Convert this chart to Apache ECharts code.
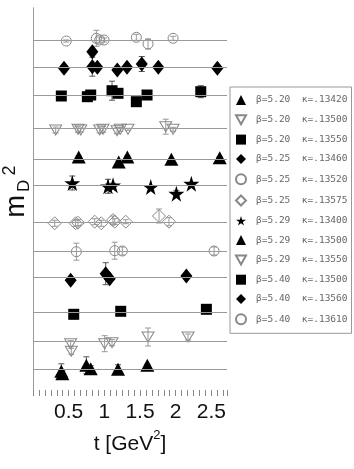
<!DOCTYPE html>
<html><head><meta charset="utf-8">
<script src="https://cdn.jsdelivr.net/npm/echarts@6/dist/echarts.min.js"></script>
<style>html,body{margin:0;padding:0;background:#fff}#c{width:354px;height:469px}</style>
</head><body><div id="c"></div>
<script>
const xTickLabels = ['0.5', '1', '1.5', '2', '2.5'];
const seriesNames = [
  'β=5.20  κ=.13420', 'β=5.20  κ=.13500', 'β=5.20  κ=.13550',
  'β=5.25  κ=.13460', 'β=5.25  κ=.13520', 'β=5.25  κ=.13575',
  'β=5.29  κ=.13400', 'β=5.29  κ=.13500', 'β=5.29  κ=.13550',
  'β=5.40  κ=.13500', 'β=5.40  κ=.13560', 'β=5.40  κ=.13610'
];
// horizontal reference level of each series (same order as seriesNames)
const levels = [2.37, 5.15, 8.07, 11.58, 14.17, 17.1, 20.78, 23.37, 26.45, 29.8, 32.53, 35.3];

// points: [t, mD2 (offset scale), error]
const b520_k13420 = [[0.397,2.17,0.75],[0.411,1.93,0.3],[0.748,2.77,0.85],[0.809,2.43,0.3],[1.192,2.37,0.45],[1.603,2.77,0.1]];
const b520_k13500 = [[0.528,4.93,0.3],[0.537,4.17,0.3],[1.005,4.93,0.8],[1.108,5.03,0.3],[1.613,5.6,0.9],[2.174,5.6,0.3]];
const b520_k13550 = [[0.571,7.87,0.45],[1.230,8.17,0.25],[2.431,8.37,0.1]];
const b525_k13460 = [[0.528,11.27,0.2],[1.019,11.93,1.1],[1.075,11.43,0.2],[2.150,11.7,0.1]];
const b525_k13520 = [[0.608,14.13,0.85],[1.146,14.23,0.85],[1.253,14.2,0.4],[2.539,14.2,0.4]];
const b525_k13575 = [[0.304,16.97,0.3],[0.598,16.97,0.3],[0.631,17.03,0.3],[0.865,17.13,0.3],[0.958,16.97,0.3],[1.122,17.3,0.4],[1.146,17.13,0.3],[1.300,17.13,0.2],[1.767,17.7,0.7],[1.907,17.13,0.4]];
const b529_k13400 = [[0.551,21.0,0.7],[1.052,20.67,0.7],[1.122,20.77,0.2],[1.651,20.6,0.1],[2.010,19.93,0.3],[2.220,20.93,0.1]];
const b529_k13500 = [[0.641,23.6,0.1],[1.202,23.1,0.1],[1.323,23.6,0.1],[1.940,23.37,0.1],[2.618,23.53,0.1]];
const b529_k13550 = [[0.318,26.3,0.3],[0.631,26.37,0.3],[0.669,26.3,0.2],[0.935,26.3,0.3],[0.982,26.37,0.3],[1.178,26.23,0.3],[1.224,26.37,0.2],[1.332,26.37,0.1],[1.861,26.63,0.75],[1.964,26.37,0.2]];
const b540_k13500 = [[0.397,29.7,0.1],[0.762,29.63,0.1],[0.809,29.8,0.1],[1.108,30.23,0.95],[1.192,29.97,0.2],[1.449,29.13,0.1],[1.599,29.8,0.1],[2.352,30.13,0.6]];
const b540_k13560 = [[0.435,32.47,0.1],[0.832,34.13,0.1],[0.832,32.63,0.95],[0.902,32.57,0.2],[1.182,32.3,0.2],[1.318,32.57,0.2],[1.525,32.9,0.75],[1.757,32.57,0.1],[2.585,32.47,0.1]];
const b540_k13610 = [[0.467,35.2,0.1],[0.888,35.47,0.8],[0.935,35.3,0.3],[0.996,35.3,0.2],[1.449,35.57,0.3],[1.613,34.9,0.5],[1.964,35.47,0.2]];

const seriesData = [b520_k13420, b520_k13500, b520_k13550, b525_k13460, b525_k13520, b525_k13575,
  b529_k13400, b529_k13500, b529_k13550, b540_k13500, b540_k13560, b540_k13610];

const STAR = 'path://M50,0L61,35L98,35L68,57L79,91L50,70L21,91L32,57L2,35L39,35Z';
const DOWN = 'path://M0,0L10,0L5,9Z';
const markers = [
  {symbol: 'triangle', size: [14, 13], open: false},
  {symbol: DOWN, size: [12, 10], open: true},
  {symbol: 'rect', size: 11, open: false},
  {symbol: 'diamond', size: [12, 15], open: false},
  {symbol: 'circle', size: 10, open: true},
  {symbol: 'diamond', size: [13, 13], open: true},
  {symbol: STAR, size: 16, open: false},
  {symbol: 'triangle', size: [14, 13], open: false},
  {symbol: DOWN, size: [12, 10], open: true},
  {symbol: 'rect', size: 11, open: false},
  {symbol: 'diamond', size: [12, 15], open: false},
  {symbol: 'circle', size: 10, open: true}
];

const errData = [];
seriesData.forEach((arr, i) => arr.forEach(p => errData.push([p[0], p[1], p[2], markers[i].open ? 1 : 0])));

const chart = echarts.init(document.getElementById('c'), null, {renderer: 'canvas'});
const FONT = 'Liberation Sans';

const series = [{
  type: 'custom',
  name: 'err',
  data: errData,
  z: 1,
  silent: true,
  encode: {x: 0, y: 1},
  renderItem: (params, api) => {
    const x = api.value(0), y = api.value(1), e = api.value(2);
    const top = api.coord([x, y + e]);
    const bot = api.coord([x, y - e]);
    const c = api.value(3) ? '#999' : '#555';
    const w = 3;
    return {type: 'group', children: [
      {type: 'line', shape: {x1: top[0], y1: top[1], x2: bot[0], y2: bot[1]}, style: {stroke: c, lineWidth: 1}},
      {type: 'line', shape: {x1: top[0] - w, y1: top[1], x2: top[0] + w, y2: top[1]}, style: {stroke: c, lineWidth: 1}},
      {type: 'line', shape: {x1: bot[0] - w, y1: bot[1], x2: bot[0] + w, y2: bot[1]}, style: {stroke: c, lineWidth: 1}}
    ]};
  },
  markLine: {
    silent: true,
    symbol: 'none',
    label: {show: false},
    lineStyle: {color: '#9a9a9a', type: 'solid', width: 1},
    data: levels.map(v => ({yAxis: v}))
  }
}];

seriesData.forEach((arr, i) => {
  const m = markers[i];
  series.push({
    type: 'scatter',
    name: seriesNames[i],
    data: arr.map(p => [p[0], p[1]]),
    symbol: m.symbol,
    symbolSize: m.size,
    z: 3,
    itemStyle: m.open
      ? {color: 'rgba(255,255,255,0)', borderColor: '#888', borderWidth: 1, opacity: 1}
      : {color: '#000', borderWidth: 0, opacity: 1}
  });
});

chart.setOption({
  animation: false,
  backgroundColor: '#fff',
  grid: {left: 33, right: 127, top: 8, bottom: 76, containLabel: false, outerBoundsMode: 'none'},
  legend: {
    data: seriesNames,
    orient: 'vertical',
    left: 230,
    top: 87,
    itemWidth: 10,
    itemHeight: 10,
    itemGap: 9.3,
    padding: [8, 4, 8, 5],
    borderColor: '#999',
    borderWidth: 1,
    backgroundColor: '#fff',
    selectedMode: false,
    textStyle: {fontFamily: 'DejaVu Sans Mono', fontSize: 9.5, color: '#666', padding: [0, 0, 0, 5]}
  },
  xAxis: [{
    type: 'value',
    min: 0, max: 2.72, interval: 0.5,
    position: 'bottom',
    splitLine: {show: false},
    axisLine: {show: false},
    axisTick: {show: true, inside: true, length: 3, lineStyle: {color: '#888'}},
    minorTick: {show: true, splitNumber: 6, length: 3, lineStyle: {color: '#888'}},
    axisLabel: {
      showMinLabel: false, showMaxLabel: false, margin: 9,
      fontFamily: FONT, fontSize: 21, color: '#111',
      formatter: v => { const i = Math.round(v / 0.5) - 1; return (i >= 0 && i < xTickLabels.length && Math.abs(v - (i + 1) * 0.5) < 1e-6) ? xTickLabels[i] : ''; }
    },
    name: '{a|t [GeV}{s|2}{a|]}',
    nameLocation: 'middle',
    nameGap: 36,
    nameTextStyle: {
      rich: {
        a: {fontFamily: FONT, fontSize: 21, color: '#111', lineHeight: 26, verticalAlign: 'bottom'},
        s: {fontFamily: FONT, fontSize: 13, color: '#111', lineHeight: 26, verticalAlign: 'top'}
      }
    }
  }, {
    type: 'value',
    min: 0, max: 2.72, interval: 0.5,
    position: 'top',
    splitLine: {show: false},
    axisLine: {show: false},
    axisTick: {show: true, inside: true, length: 3, lineStyle: {color: '#888'}},
    minorTick: {show: true, splitNumber: 6, length: 3, lineStyle: {color: '#888'}},
    axisLabel: {show: false}
  }],
  yAxis: [{
    type: 'value',
    min: 0, max: 38.5,
    position: 'left',
    splitLine: {show: false},
    axisLine: {show: true, lineStyle: {color: '#999', width: 1}},
    axisTick: {show: false},
    axisLabel: {show: false},
    name: '{m|m}{d|D}{s|2}',
    nameLocation: 'middle',
    nameRotate: 90,
    nameGap: 0,
    nameTextStyle: {
      padding: [0, 0, 0, 18],
      rich: {
        m: {fontFamily: FONT, fontSize: 27, color: '#111', lineHeight: 32, verticalAlign: 'middle'},
        d: {fontFamily: FONT, fontSize: 17, color: '#111', lineHeight: 32, verticalAlign: 'bottom', padding: [0, 0, 0, 3]},
        s: {fontFamily: FONT, fontSize: 18, color: '#111', lineHeight: 32, verticalAlign: 'top', padding: [0, 0, 0, 4]}
      }
    }
  }, {
    type: 'value',
    min: 0, max: 38.5,
    position: 'right',
    splitLine: {show: false},
    axisLine: {show: true, lineStyle: {color: '#999', width: 1}},
    axisTick: {show: false},
    axisLabel: {show: false}
  }],
  series: series
});
</script>
</body></html>
